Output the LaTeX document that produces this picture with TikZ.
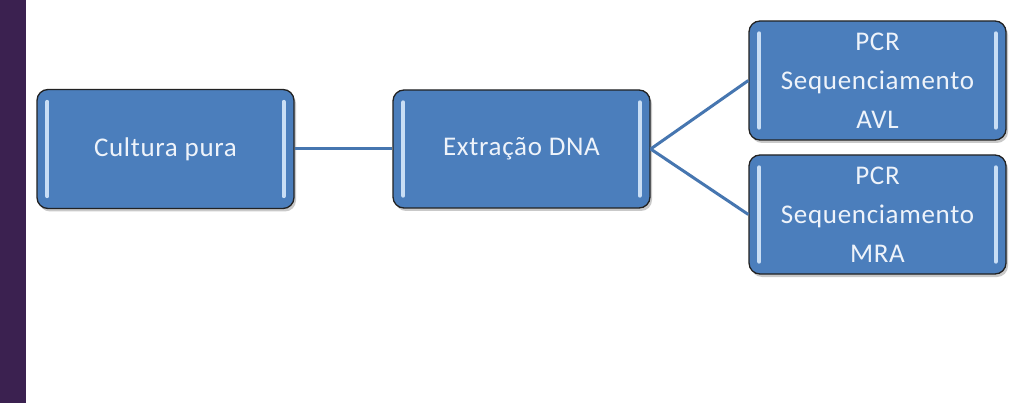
\documentclass[tikz,border=0pt]{standalone}
\usepackage{fontspec}
\setmainfont{Carlito}[LetterSpace=2.5]
\usetikzlibrary{shadows}
\definecolor{barpurple}{HTML}{3B2150}
\definecolor{boxfill}{HTML}{4B7EBC}
\definecolor{boxedge}{HTML}{222222}
\definecolor{linkblue}{HTML}{4676B0}
\definecolor{hilite}{HTML}{C9DEF5}
\definecolor{txt}{HTML}{EEF3FA}
\tikzset{
  smartbox/.style={draw=boxedge, line width=1.3pt, fill=boxfill, rounded corners=11pt,
    minimum width=257pt, minimum height=119pt, inner sep=0pt,
    text=txt, align=center, font=\fontsize{27}{39}\selectfont,
    drop shadow={shadow xshift=2pt, shadow yshift=-3pt, opacity=0.35, fill=black!60}},
  link/.style={draw=linkblue, line width=3pt},
  hl/.style={draw=hilite, line width=4pt, line cap=round}
}
\newcommand{\hlbars}[1]{%
  \draw[hl] ([xshift=11pt,yshift=-13pt]#1.north west) -- ([xshift=11pt,yshift=13pt]#1.south west);
  \draw[hl] ([xshift=-11pt,yshift=-13pt]#1.north east) -- ([xshift=-11pt,yshift=13pt]#1.south east);
}
\begin{document}
\begin{tikzpicture}[x=1pt,y=-1pt]
\useasboundingbox (0,0) rectangle (1011,403);
\fill[white] (0,0) rectangle (1011,403);
\fill[barpurple] (0,0) rectangle (26,403);
\node[smartbox] (b1) at (165.5,149) {Cultura pura};
\node[smartbox, minimum height=118pt] (b2) at (521.5,149) {Extração DNA};
\node[smartbox] (b3) at (877.5,80.5) {PCR\\Sequenciamento\\AVL};
\node[smartbox] (b4) at (877.5,214.5) {PCR\\Sequenciamento\\MRA};
\draw[link] (b1.east) -- (b2.west);
\draw[link] (b2.east) -- (b3.west);
\draw[link] (b2.east) -- (b4.west);
\hlbars{b1}
\hlbars{b2}
\hlbars{b3}
\hlbars{b4}
\end{tikzpicture}
\end{document}
